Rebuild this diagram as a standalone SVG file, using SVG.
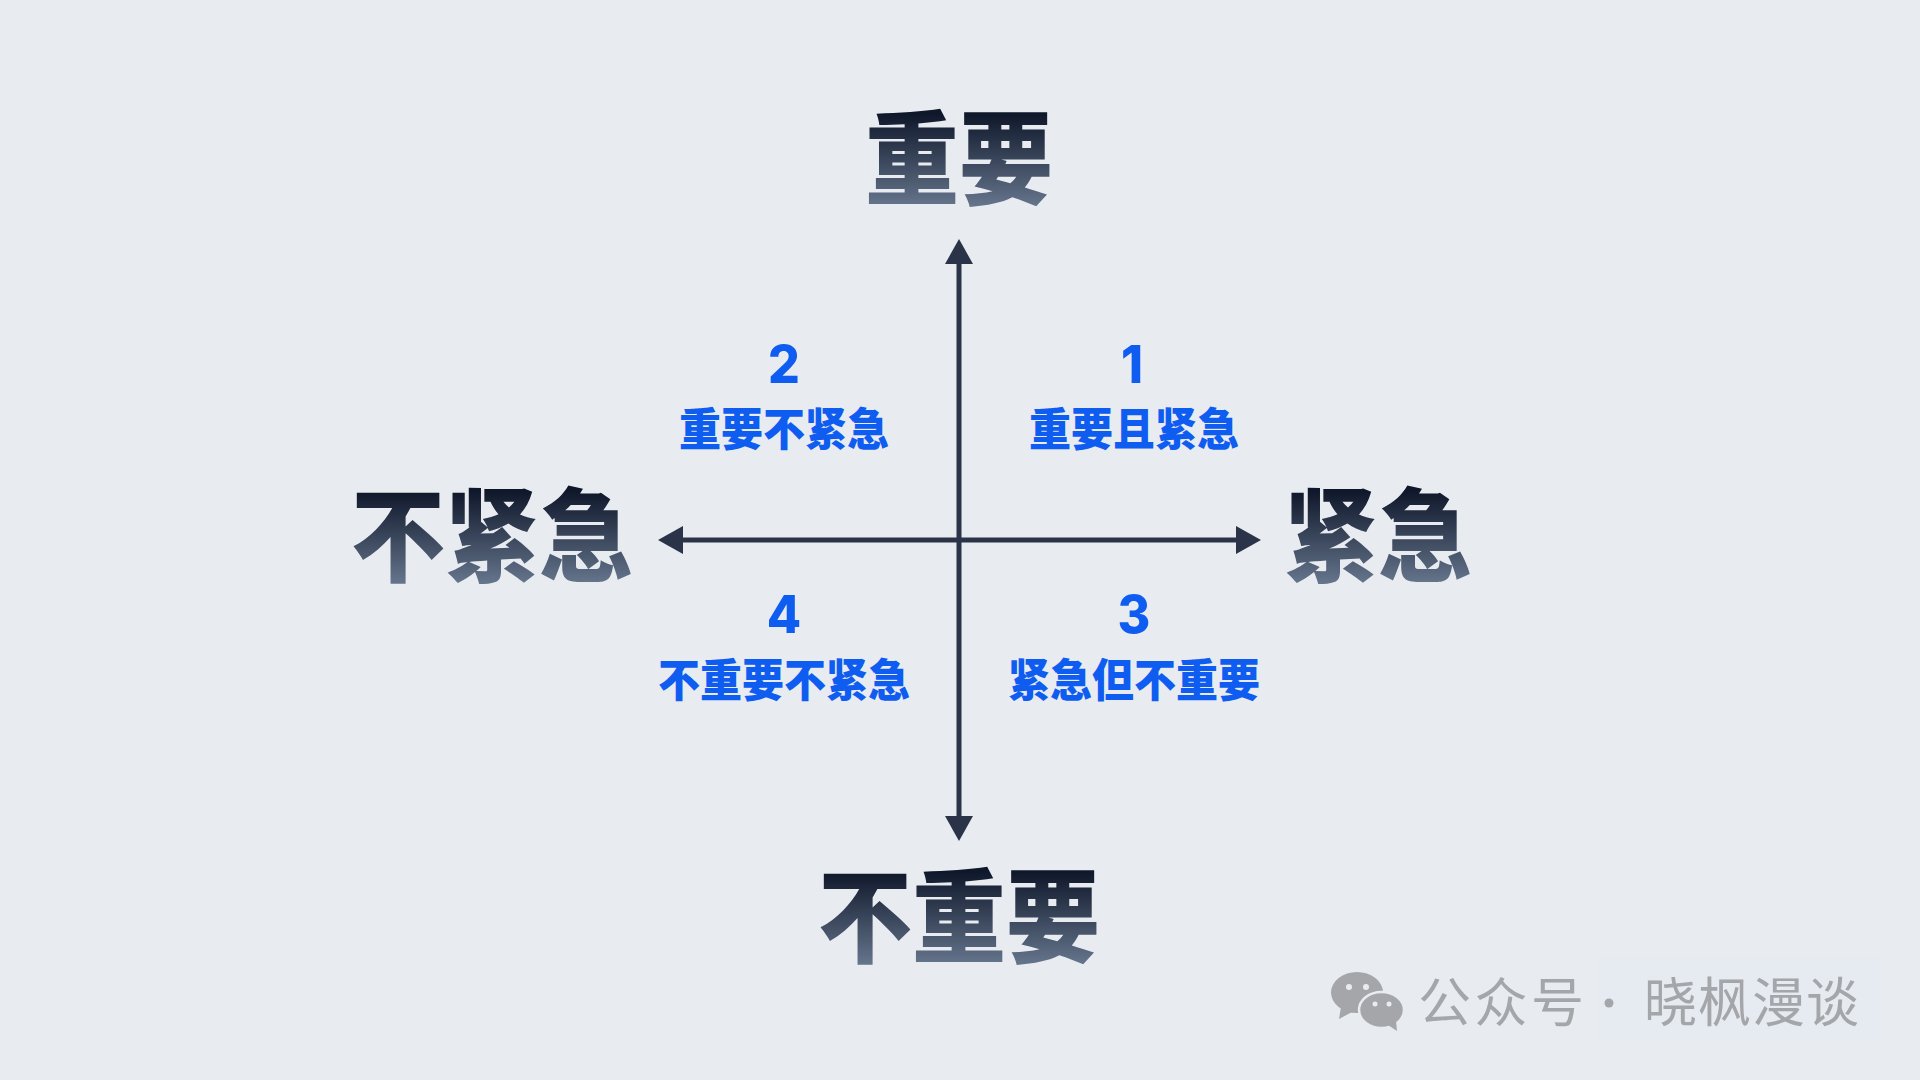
<svg xmlns="http://www.w3.org/2000/svg" width="1920" height="1080" viewBox="0 0 1920 1080">
<style>
.big{font:900 94px "Noto Sans CJK SC","Noto Sans",sans-serif;text-anchor:middle;fill:url(#g)}
.num{font:800 50px Inter,"Noto Sans",sans-serif;text-anchor:middle;fill:#0f5cf0}
.sub{font:900 42px "Noto Sans CJK SC","Noto Sans",sans-serif;text-anchor:middle;fill:#0f5cf0}
.wm{font:400 53px "Noto Sans CJK SC","Noto Sans",sans-serif;fill:#a4a6aa}
.axis{stroke:#2a3347;stroke-width:5;fill:none}
.head{fill:#2a3347}
.ic{fill:#a4a6aa}
.eye{fill:#e8ecf1}
</style>
<defs>
<linearGradient id="g" x1="0" y1="0" x2="0" y2="1"><stop offset=".24" stop-color="#0f172a"/><stop offset=".86" stop-color="#64748b"/></linearGradient>
</defs>
<rect width="1920" height="1080" fill="#e8ecf1"/>
<rect x="1598" y="958" width="282" height="82" fill="#e6eaf1"/>
<g id="connectors">
<path class="axis" d="M959 262V818M681 540H1238"/>
<path class="head" d="M959 239L973 264H945Z"/>
<path class="head" d="M959 841L973 816H945Z"/>
<path class="head" d="M658 540L683 526V554Z"/>
<path class="head" d="M1261 540L1236 526V554Z"/>
</g>
<g id="axis-top"><text class="big" transform="translate(959 197) scale(1 1.09)">重要</text></g>
<g id="axis-bottom"><text class="big" transform="translate(959 955) scale(1 1.09)">不重要</text></g>
<g id="axis-left"><text class="big" transform="translate(492 574) scale(1 1.09)">不紧急</text></g>
<g id="axis-right"><text class="big" transform="translate(1378 574) scale(1 1.09)">紧急</text></g>
<g id="q1"><text class="num" transform="translate(1132 383) scale(1 1.04)">1</text><text class="sub" transform="translate(1134 446) scale(1 1.08)">重要且紧急</text></g>
<g id="q2"><text class="num" transform="translate(784 383) scale(1 1.04)">2</text><text class="sub" transform="translate(784 446) scale(1 1.08)">重要不紧急</text></g>
<g id="q3"><text class="num" transform="translate(1134 633) scale(1 1.04)">3</text><text class="sub" transform="translate(1134 697) scale(1 1.08)">紧急但不重要</text></g>
<g id="q4"><text class="num" transform="translate(784 633) scale(1 1.04)">4</text><text class="sub" transform="translate(784 697) scale(1 1.08)">不重要不紧急</text></g>
<g id="watermark">
<ellipse class="ic" cx="1357" cy="992.500" rx="26" ry="20.500"/>
<path class="ic" d="M1341 1007L1339 1019L1352 1012Z"/>
<ellipse class="ic" cx="1381.500" cy="1010" rx="22.500" ry="18" stroke="#e8ecf1" stroke-width="2.500"/>
<path class="ic" d="M1388 1025L1397 1031L1396 1021Z"/>
<circle class="eye" cx="1349" cy="987" r="3"/><circle class="eye" cx="1366" cy="987" r="3"/>
<circle class="eye" cx="1375" cy="1004" r="2.500"/><circle class="eye" cx="1389" cy="1004" r="2.500"/>
<text class="wm" x="1418" y="1022" textLength="166">公众号</text>
<circle class="ic" cx="1609" cy="1003" r="4.500"/>
<text class="wm" x="1644" y="1022" textLength="215">晓枫漫谈</text>
</g>
</svg>
